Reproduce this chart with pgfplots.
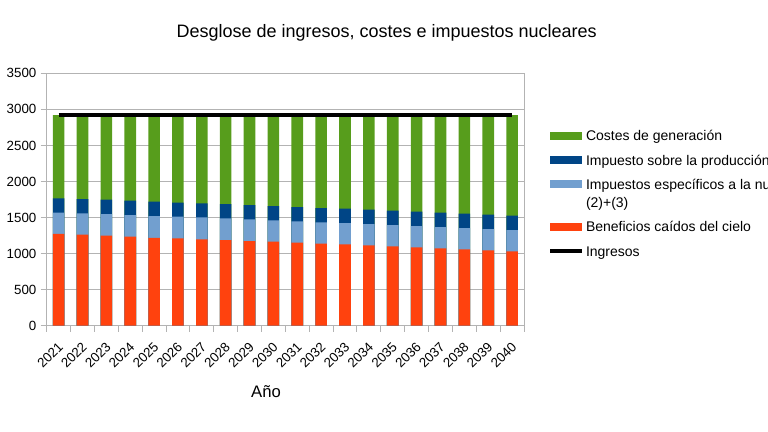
\documentclass[border=0pt]{standalone}
\usepackage{fontspec}
\setmainfont{Liberation Sans}
\usepackage{pgfplots}
\usepackage{pgfplotstable}
\pgfplotsset{compat=1.18}
\definecolor{cGreen}{HTML}{579D1C}
\definecolor{cDark}{HTML}{004586}
\definecolor{cLight}{HTML}{729FCF}
\definecolor{cRed}{HTML}{FF420E}
\definecolor{cGrid}{HTML}{B3B3B3}
% cumulative tops of the stacked segments
\pgfplotstableread{
idx year costes prod esp benef ingresos
0  2021 2920 1766 1567 1275 2920
1  2022 2920 1757 1558 1262 2920
2  2023 2920 1748 1549 1248 2920
3  2024 2920 1734 1535 1234 2920
4  2025 2920 1720 1521 1220 2920
5  2026 2920 1706 1512 1211 2920
6  2027 2920 1697 1503 1197 2920
7  2028 2920 1687 1489 1188 2920
8  2029 2920 1674 1475 1174 2920
9  2030 2920 1660 1461 1165 2920
10 2031 2920 1646 1447 1151 2920
11 2032 2920 1632 1433 1137 2920
12 2033 2920 1623 1424 1128 2920
13 2034 2920 1609 1410 1114 2920
14 2035 2920 1595 1396 1100 2920
15 2036 2920 1581 1382 1086 2920
16 2037 2920 1567 1368 1073 2920
17 2038 2920 1553 1355 1059 2920
18 2039 2920 1540 1341 1045 2920
19 2040 2920 1526 1327 1031 2920
}\datatable
\begin{document}
\begin{tikzpicture}
\begin{axis}[
  at={(35pt,79.7pt)}, anchor=south west,
  scale only axis, width=358pt, height=189.3pt,
  xmin=-0.5, xmax=19.5, ymin=0, ymax=3500,
  axis line style={draw=cGrid, line width=0.75pt},
  ytick={0,500,...,3500},
  ymajorgrids, grid style={draw=cGrid, line width=0.75pt},
  tick align=outside, tick pos=left,
  major tick length=4.5pt,
  tick style={draw=cGrid, line width=0.75pt},
  xtick={-0.5,0.5,...,19.5}, xticklabels={},
  extra x ticks={0,1,...,19},
  extra x tick labels={2021,2022,2023,2024,2025,2026,2027,2028,2029,2030,2031,2032,2033,2034,2035,2036,2037,2038,2039,2040},
  extra x tick style={grid=none, major tick length=0pt, tick style={draw=none}},
  xticklabel style={xshift=-1pt, yshift=-11.5pt, rotate=45, anchor=north east, inner sep=0pt},
  yticklabel style={inner sep=0pt, anchor=east, xshift=-3pt},
  tick label style={font=\fontsize{10}{12}\selectfont},
  /pgf/number format/assume math mode=true,
  /pgf/number format/1000 sep={},
  title={Desglose de ingresos, costes e impuestos nucleares},
  title style={at={(axis description cs:0.7123,1.109)}, anchor=base, inner sep=0pt, font=\fontsize{13.5}{16}\selectfont},
  xlabel={Año},
  xlabel style={at={(axis description cs:0.4595,-0.2824)}, anchor=base, inner sep=0pt, font=\fontsize{12.5}{15}\selectfont},
  legend style={at={(axis description cs:1.0503,0.7819)}, anchor=north west, draw=none, fill=none,
    inner sep=0pt, outer sep=0pt, row sep=4.75pt, column sep=1.5pt,
    font=\fontsize{10.5}{13.5}\selectfont,
    nodes={inner sep=0pt, text depth={}, text height={}}, cells={anchor=base west}},
]
\addplot[ybar, bar width=8.7pt, bar shift=0pt, fill=cGreen, draw=none,
  legend image code/.code={\fill[cGreen] (0pt,1pt) rectangle (24pt,7pt);}]
  table[x=idx, y=costes] {\datatable};
\addlegendentry{\strut Costes de generación}
\addplot[ybar, bar width=8.7pt, bar shift=0pt, fill=cDark, draw=none,
  legend image code/.code={\fill[cDark] (0pt,1pt) rectangle (24pt,7pt);}]
  table[x=idx, y=prod] {\datatable};
\addlegendentry{\strut Impuesto sobre la producción de energía eléctrica}
\addplot[ybar, bar width=8.7pt, bar shift=0pt, fill=cLight, draw=none,
  legend image code/.code={\fill[cLight] (0pt,1pt) rectangle (24pt,7pt);}]
  table[x=idx, y=esp] {\datatable};
\addlegendentry{\begin{tabular}[t]{@{}l@{}}Impuestos específicos a la nuclear\\(2)+(3)\end{tabular}}
\addplot[ybar, bar width=8.7pt, bar shift=0pt, fill=cRed, draw=none,
  legend image code/.code={\fill[cRed] (0pt,1pt) rectangle (24pt,7pt);}]
  table[x=idx, y=benef] {\datatable};
\addlegendentry{\strut Beneficios caídos del cielo}
\addplot[black, line width=3pt, mark=none,
  legend image code/.code={\draw[black, line width=3pt] (0pt,4pt) -- (24pt,4pt);}]
  table[x=idx, y=ingresos] {\datatable};
\addlegendentry{\strut Ingresos}
\end{axis}
\pgfresetboundingbox
\path[use as bounding box] (0pt,0pt) rectangle (576pt,324pt);
\end{tikzpicture}
\end{document}
